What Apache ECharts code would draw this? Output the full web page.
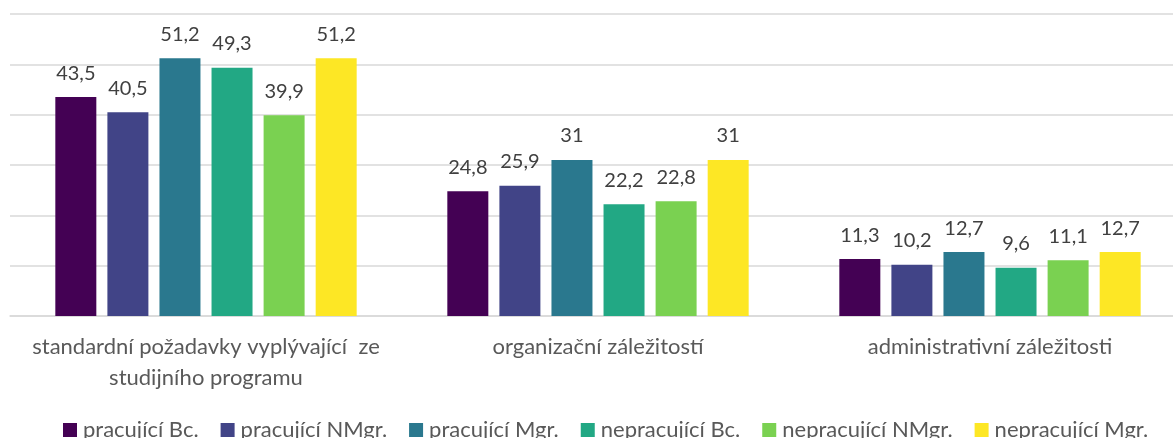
<!DOCTYPE html>
<html><head><meta charset="utf-8">
<script src="https://cdn.jsdelivr.net/npm/echarts@6/dist/echarts.min.js"></script>
<style>html,body{margin:0;padding:0;background:#fff;overflow:hidden;width:1173px;height:438px}#c{width:1186px;height:438px}</style>
</head><body><div id="c"></div>
<script>
const categories = ["standardní požadavky vyplývající  ze\nstudijního programu", "organizační záležitostí", "administrativní záležitosti"];
const seriesNames = ["pracující Bc.", "pracující NMgr.", "pracující Mgr.", "nepracující Bc.", "nepracující NMgr.", "nepracující Mgr."];
const pracujiciBc = [43.5, 24.8, 11.3];
const pracujiciNMgr = [40.5, 25.9, 10.2];
const pracujiciMgr = [51.2, 31, 12.7];
const nepracujiciBc = [49.3, 22.2, 9.6];
const nepracujiciNMgr = [39.9, 22.8, 11.1];
const nepracujiciMgr = [51.2, 31, 12.7];
const colors = ["#440154", "#414487", "#2A788E", "#22A884", "#7AD151", "#FDE725"];
const values = [pracujiciBc, pracujiciNMgr, pracujiciMgr, nepracujiciBc, nepracujiciNMgr, nepracujiciMgr];
const FONT = "Lato, 'Noto Sans', sans-serif";
const chart = echarts.init(document.getElementById('c'), null, {renderer: 'canvas'});
chart.setOption({
  animation: false,
  color: colors,
  grid: {left: 10, right: 0, top: 14, bottom: 122, containLabel: false},
  legend: {
    top: 419, left: 63, padding: 0, itemWidth: 14, itemHeight: 14, itemGap: 22,
    icon: 'rect',
    textStyle: {color: '#595959', fontSize: 22, fontFamily: FONT, padding: [0,0,0,1]},
    data: seriesNames
  },
  xAxis: {
    type: 'category', data: categories,
    axisLine: {lineStyle: {color: '#d9d9d9', width: 1.5}},
    axisTick: {show: false},
    axisLabel: {color: '#595959', fontSize: 22, fontFamily: FONT, margin: 15, lineHeight: 31, interval: 0}
  },
  yAxis: {
    type: 'value', min: 0, max: 60, interval: 10,
    axisLabel: {show: false}, axisLine: {show: false}, axisTick: {show: false},
    splitLine: {lineStyle: {color: '#d9d9d9', width: 1.5}}
  },
  series: values.map((v, i) => ({
    name: seriesNames[i], type: 'bar', data: v,
    barWidth: 41, barGap: '27%', barCategoryGap: '23%',
    label: {show: true, position: 'top', distance: 14, color: '#404040', fontSize: 20, fontFamily: FONT,
      formatter: p => String(p.value).replace('.', ',')}
  }))
});
</script></body></html>
